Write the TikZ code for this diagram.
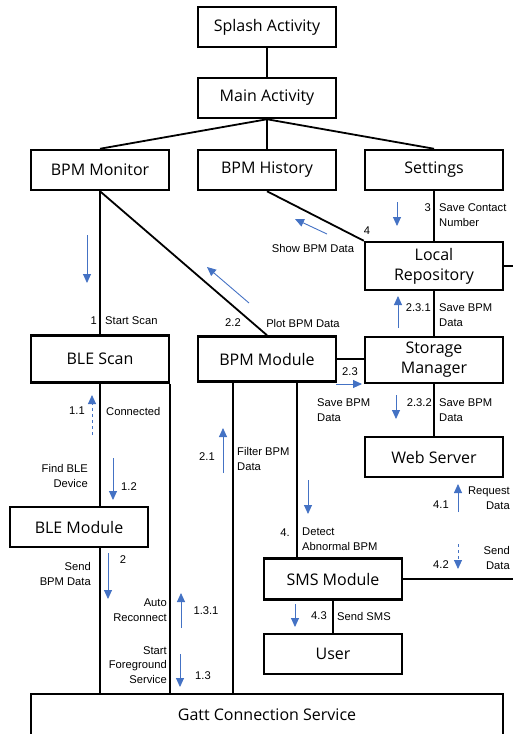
\documentclass[tikz,border=0pt]{standalone}
\usepackage{fontspec}
\setmainfont{Liberation Sans}
\newfontfamily\boxfont{Open Sans}
\usetikzlibrary{arrows.meta}
\definecolor{flowblue}{RGB}{68,114,196}

\begin{document}
\begin{tikzpicture}[x=1pt, y=-1pt,
mybox/.style={draw, rectangle, line width=2.5pt, minimum width=138pt, minimum height=40pt, inner sep=1pt, fill=white, font=\boxfont\fontsize{16}{20}\selectfont, align=center},
link/.style={line width=1.8pt},
flow/.style={draw=flowblue, line width=0.9pt, -{Triangle[length=9pt,width=8pt]}},
dflow/.style={flow, dashed},
lbl/.style={inner sep=0pt, font=\fontsize{11.2}{14.5}\selectfont}
]
\path[use as bounding box, clip] (0,0) rectangle (513,734);

% boxes
\node (splash) at (267, 27) [mybox] {Splash Activity};
\node (main) at (267, 98) [mybox] {Main Activity};
\node (monitor) at (100, 170) [mybox] {BPM Monitor};
\node (history) at (267, 170) [mybox] {BPM History};
\node (settings) at (434, 170) [mybox] {Settings};
\node (repo) at (434, 266) [mybox, minimum height=48pt] {Local\\Repository};
\node (scan) at (100, 359) [mybox, minimum height=47pt] {BLE Scan};
\node (bpmmod) at (267, 359) [mybox, minimum height=45pt] {BPM Module};
\node (storage) at (434, 360) [mybox, minimum height=46pt] {Storage\\Manager};
\node (web) at (434, 457) [mybox] {Web Server};
\node (blemod) at (79, 527) [mybox] {BLE Module};
\node (sms) at (333, 579) [mybox, minimum height=41pt] {SMS Module};
\node (user) at (333, 654) [mybox] {User};
\node (gatt) at (267, 715) [mybox, minimum width=472pt, minimum height=42pt] {Gatt Connection Service};

\coordinate (rim) at (513, 0);
\coordinate (gattdrop) at (233, 0);
\coordinate (alarm) at (297, 0);

% links
\draw[link] (splash) -- (main);
\draw[link] (main.south) -- (monitor.north);
\draw[link] (main.south) -- (history.north);
\draw[link] (main.south) -- (settings.north);
\draw[link] (history.south) -- (repo.north west);
\draw[link] (settings) -- (repo);
\draw[link] (repo.east) -- (repo.east -| rim);
\draw[link] (monitor) -- (scan);
\draw[link] (monitor.south) -- (bpmmod.north);
\draw[link] (bpmmod.east) -- (bpmmod.east -| storage.west);
\draw[link] (repo) -- (storage);
\draw[link] (storage) -- (web);
\draw[link] (scan.south) -- (scan.south |- blemod.north);
\draw[link] (scan.south east) -- (scan.south east |- gatt.north);
\draw[link] (scan.south |- blemod.south) -- (scan.south |- gatt.north);
\draw[link] (bpmmod.south -| gattdrop) -- (gattdrop |- gatt.north);
\draw[link] (bpmmod.south -| alarm) -- (alarm |- sms.north);
\draw[link] (sms) -- (user);
\draw[link] (sms.east) -- (sms.east -| rim);

% labels
\node (n3) at (431, 208) [lbl, anchor=east] {3};
\node (t3) at (439, 215) [lbl, anchor=west, align=left] {Save Contact\\Number};
\node (n4) at (367, 231) [lbl] {4};
\node (t4) at (313, 248) [lbl] {Show BPM Data};
\node (n22) at (233, 323) [lbl] {2.2};
\node (t22) at (303, 323) [lbl] {Plot BPM Data};
\node (n1) at (97, 321) [lbl, anchor=east] {1};
\node (t1) at (105, 321) [lbl, anchor=west] {Start Scan};
\node (n231) at (431, 308) [lbl, anchor=east] {2.3.1};
\node (t231) at (439, 315) [lbl, anchor=west, align=left] {Save BPM\\Data};
\node (n23) at (350, 372) [lbl] {2.3};
\node (t23) at (317, 410) [lbl, anchor=west, align=left] {Save BPM\\Data};
\node (n232) at (432, 403) [lbl, anchor=east] {2.3.2};
\node (t232) at (439, 410) [lbl, anchor=west, align=left] {Save BPM\\Data};
\node (n11) at (77, 411) [lbl] {1.1};
\node (t11) at (106, 411) [lbl, anchor=west] {Connected};
\node (t12) at (88, 476) [lbl, anchor=east, align=right] {Find BLE\\Device};
\node (n12) at (129, 487) [lbl] {1.2};
\node (n21) at (207, 457) [lbl] {2.1};
\node (t21) at (237, 459) [lbl, anchor=west, align=left] {Filter BPM\\Data};
\node (n4d) at (285, 533) [lbl] {4.};
\node (t4d) at (302, 539) [lbl, anchor=west, align=left] {Detect\\Abnormal BPM};
\node (n41) at (441, 505) [lbl] {4.1};
\node (t41) at (510, 498) [lbl, anchor=east, align=right] {Request\\Data};
\node (n42) at (441, 565) [lbl] {4.2};
\node (t42) at (510, 558) [lbl, anchor=east, align=right] {Send\\Data};
\node (n43) at (319, 616) [lbl] {4.3};
\node (t43) at (337, 616) [lbl, anchor=west] {Send SMS};
\node (n2) at (123, 560) [lbl] {2};
\node (t2) at (91, 574) [lbl, anchor=east, align=right] {Send\\BPM Data};
\node (t131) at (167, 610) [lbl, anchor=east, align=right] {Auto\\Reconnect};
\node (n131) at (206, 611) [lbl] {1.3.1};
\node (t13) at (167, 665) [lbl, anchor=east, align=right] {Start\\Foreground\\Service};
\node (n13) at (203, 676) [lbl] {1.3};

% message flow
\draw[flow] (397,202) -- (397,226);
\draw[flow] (327,234) -- (295,219);
\draw[flow] (249,303) -- (207,267);
\draw[flow] (87,235) -- (87,283);
\draw[flow] (398,328) -- (398,296);
\draw[flow] (336,384) -- (362,384);
\draw[flow] (396,395) -- (396,419);
\draw[dflow] (92,435) -- (92,395);
\draw[flow] (113,458) -- (113,500);
\draw[flow] (223,473) -- (223,428);
\draw[flow] (308,480) -- (308,514);
\draw[flow] (458,512) -- (458,484);
\draw[dflow] (458,544) -- (458,569);
\draw[flow] (295,604) -- (295,627);
\draw[flow] (108,553) -- (108,599);
\draw[flow] (181,628) -- (181,593);
\draw[flow] (180,654) -- (180,687);

\end{tikzpicture}
\end{document}
